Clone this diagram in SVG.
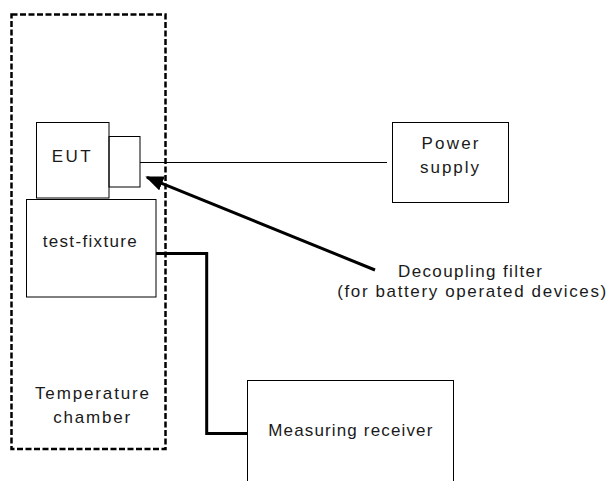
<svg xmlns="http://www.w3.org/2000/svg" width="607" height="481" viewBox="0 0 607 481">
<style>
.box{fill:none;stroke:#000;stroke-width:1}
.t{font-family:"Liberation Sans",Arial,sans-serif;font-size:17px;fill:#1a1a1a;text-anchor:middle}
</style>
<defs>
<marker id="ah" viewBox="0 0 10 10" refX="9" refY="5" markerWidth="6" markerHeight="5" orient="auto" markerUnits="strokeWidth" preserveAspectRatio="none">
<path d="M0,0 L10,5 L0,10 z" fill="#000"/>
</marker>
</defs>
<rect width="607" height="481" fill="#fff"/>
<g id="chamber">
<rect x="11.5" y="14.5" width="154" height="434.5" fill="none" stroke="#000" stroke-width="2.5" stroke-dasharray="6 2.5"/>
<text class="t" x="92" y="399" textLength="114" lengthAdjust="spacing">Temperature</text>
<text class="t" x="91.7" y="422.5" textLength="77" lengthAdjust="spacing">chamber</text>
</g>
<g id="eut">
<rect class="box" x="36.5" y="122.5" width="72.5" height="75.5"/>
<text class="t" x="71.2" y="161.5" textLength="39" lengthAdjust="spacing">EUT</text>
</g>
<g id="filter">
<rect class="box" x="109" y="136.5" width="31" height="50.5"/>
</g>
<g id="fixture">
<rect class="box" x="26.5" y="199.5" width="129.5" height="97.5"/>
<text class="t" x="89.7" y="246.5" textLength="94" lengthAdjust="spacing">test-fixture</text>
</g>
<g id="power">
<rect class="box" x="392.5" y="122.5" width="116" height="80"/>
<text class="t" x="450" y="149.3" textLength="57" lengthAdjust="spacing">Power</text>
<text class="t" x="449.5" y="172.5" textLength="59" lengthAdjust="spacing">supply</text>
</g>
<g id="receiver">
<rect class="box" x="247.5" y="380.5" width="206" height="110"/>
<text class="t" x="350.3" y="436" textLength="164" lengthAdjust="spacing">Measuring receiver</text>
</g>
<g id="label">
<text class="t" x="470" y="277" textLength="144" lengthAdjust="spacing">Decoupling filter</text>
<text class="t" x="471.7" y="297" textLength="269" lengthAdjust="spacing">(for battery operated devices)</text>
</g>
<g id="connectors">
<line x1="140" y1="162.5" x2="387" y2="162.5" stroke="#000" stroke-width="1"/>
<polyline points="156,253.5 206.7,253.5 206.7,433.5 247.5,433.5" fill="none" stroke="#000" stroke-width="3"/>
<line x1="375" y1="270" x2="147" y2="177.3" stroke="#000" stroke-width="3" marker-end="url(#ah)"/>
</g>
</svg>
